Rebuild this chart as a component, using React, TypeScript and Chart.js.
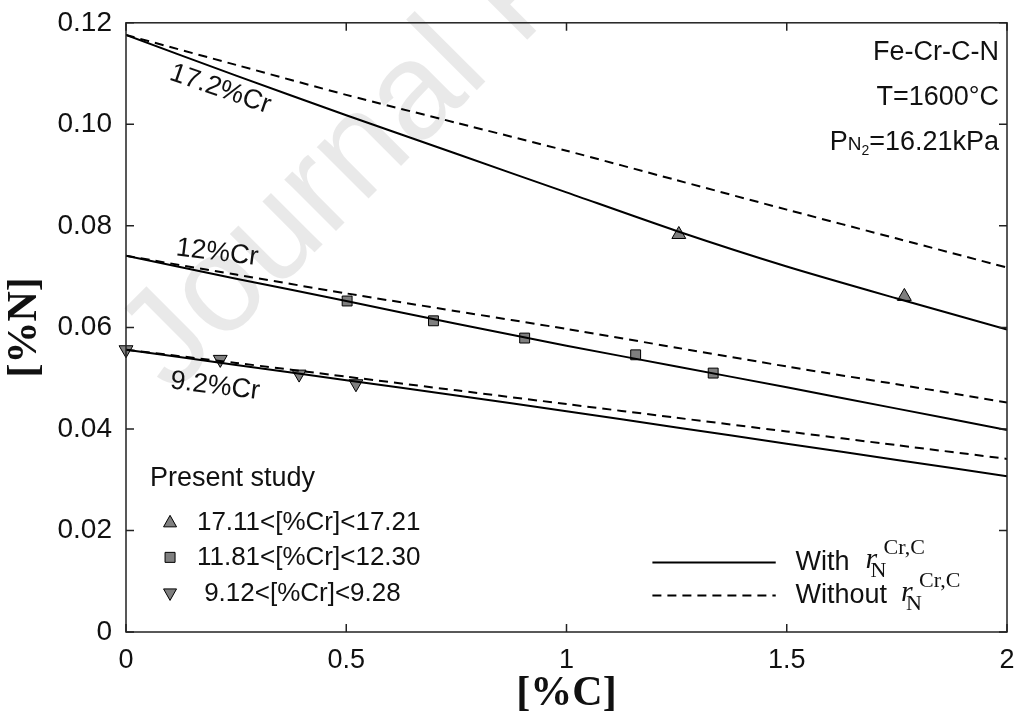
import React, { useEffect, useRef } from "react";
import { Chart, registerables } from "chart.js";

Chart.register(...registerables);

// ---- data ----
const xGrid = [0, 0.25, 0.5, 0.75, 1, 1.25, 1.5, 1.75, 2];
const with172 = [0.1176, 0.1096, 0.1018, 0.0942, 0.0866, 0.079, 0.072, 0.0657, 0.0596];
const without172 = [0.1176, 0.1117, 0.1058, 0.1003, 0.0948, 0.089, 0.0832, 0.0775, 0.0718];
const with12 = [0.0741, 0.0696, 0.0652, 0.0607, 0.0564, 0.0523, 0.0482, 0.044, 0.0398];
const without12 = [0.0741, 0.0704, 0.0667, 0.0632, 0.0597, 0.056, 0.0523, 0.0488, 0.0452];
const with92 = [0.0556, 0.0526, 0.0496, 0.0466, 0.0435, 0.0403, 0.0371, 0.0339, 0.0307];
const without92 = [0.0556, 0.053, 0.0503, 0.0476, 0.0449, 0.0422, 0.0395, 0.0368, 0.0341];

const tri17X = [1.255, 1.767];
const tri17Y = [0.0783, 0.0661];
const sq12X = [0.502, 0.698, 0.905, 1.157, 1.333];
const sq12Y = [0.0652, 0.0613, 0.0579, 0.0546, 0.051];
const tri9X = [0, 0.214, 0.393, 0.522];
const tri9Y = [0.0556, 0.0537, 0.0508, 0.0489];

const xTicks = [0, 0.5, 1, 1.5, 2];
const xTickLabels = ["0", "0.5", "1", "1.5", "2"];
const yTicks = [0, 0.02, 0.04, 0.06, 0.08, 0.1, 0.12];
const yTickLabels = ["0", "0.02", "0.04", "0.06", "0.08", "0.10", "0.12"];

const curveLabels = ["17.2%Cr", "12%Cr", "9.2%Cr"];
const legendTitle = "Present study";
const legendLabels = ["17.11<[%Cr]<17.21", "11.81<[%Cr]<12.30", " 9.12<[%Cr]<9.28"];
const infoLines = ["Fe-Cr-C-N", "T=1600°C"];

const SANS = "'Liberation Sans', Arial, sans-serif";
const SERIF = "'Liberation Serif', 'Times New Roman', serif";
const MARKER_FILL = "#7f7f7f";

const pts = (xs: number[], ys: number[]) => xs.map((x, i) => ({ x, y: ys[i] }));

function drawMarker(ctx: CanvasRenderingContext2D, style: string, x: number, y: number) {
  ctx.save();
  ctx.fillStyle = MARKER_FILL;
  ctx.strokeStyle = "#000";
  ctx.lineWidth = 1;
  ctx.beginPath();
  if (style === "rect") {
    ctx.rect(x - 5, y - 5, 10, 10);
  } else if (style === "up") {
    ctx.moveTo(x, y - 7);
    ctx.lineTo(x + 6.5, y + 4.5);
    ctx.lineTo(x - 6.5, y + 4.5);
    ctx.closePath();
  } else {
    ctx.moveTo(x, y + 7);
    ctx.lineTo(x + 6.5, y - 4.5);
    ctx.lineTo(x - 6.5, y - 4.5);
    ctx.closePath();
  }
  ctx.fill();
  ctx.stroke();
  ctx.restore();
}

function drawRN(ctx: CanvasRenderingContext2D, x: number, y: number) {
  ctx.save();
  ctx.fillStyle = "#111";
  ctx.textBaseline = "alphabetic";
  ctx.textAlign = "left";
  ctx.font = `italic 30px ${SERIF}`;
  ctx.fillText("r", x, y + 6);
  ctx.font = `22px ${SERIF}`;
  ctx.fillText("N", x + 5, y + 15);
  ctx.fillText("Cr,C", x + 18, y - 8);
  ctx.restore();
}

const decorPlugin = {
  id: "decor",
  beforeDatasetsDraw(chart: any) {
    const ctx = chart.ctx as CanvasRenderingContext2D;
    // watermark
    ctx.save();
    ctx.fillStyle = "rgba(0,0,0,0.085)";
    ctx.font = `138px ${SANS}`;
    ctx.translate(172, 395);
    ctx.rotate((-45 * Math.PI) / 180);
    ctx.textBaseline = "alphabetic";
    ctx.fillText("Journal Pre-proof", 0, 0);
    ctx.restore();
  },
  afterDatasetsDraw(chart: any) {
    const ctx = chart.ctx as CanvasRenderingContext2D;
    const a = chart.chartArea;
    const xs = chart.scales.x;
    const ys = chart.scales.y;
    // frame
    ctx.save();
    ctx.strokeStyle = "#222";
    ctx.lineWidth = 1.5;
    ctx.strokeRect(a.left, a.top, a.right - a.left, a.bottom - a.top);
    // inward ticks
    const tl = 8;
    ctx.beginPath();
    xTicks.forEach((v) => {
      const px = xs.getPixelForValue(v);
      ctx.moveTo(px, a.bottom);
      ctx.lineTo(px, a.bottom - tl);
      ctx.moveTo(px, a.top);
      ctx.lineTo(px, a.top + tl);
    });
    yTicks.forEach((v) => {
      const py = ys.getPixelForValue(v);
      ctx.moveTo(a.left, py);
      ctx.lineTo(a.left + tl, py);
      ctx.moveTo(a.right, py);
      ctx.lineTo(a.right - tl, py);
    });
    ctx.stroke();
    ctx.restore();

    const X = (v: number) => xs.getPixelForValue(v);
    const Y = (v: number) => ys.getPixelForValue(v);

    // info text top-right
    ctx.save();
    ctx.fillStyle = "#111";
    ctx.font = `27px ${SANS}`;
    ctx.textAlign = "right";
    ctx.textBaseline = "middle";
    ctx.fillText(infoLines[0], X(1.982), Y(0.1141));
    ctx.fillText(infoLines[1], X(1.982), Y(0.1053));
    // P N2 = 16.21kPa
    const rest = "=16.21kPa";
    ctx.textAlign = "left";
    const wRest = ctx.measureText(rest).width;
    const wP = ctx.measureText("P").width;
    ctx.font = `19px ${SANS}`;
    const wN = ctx.measureText("N").width;
    ctx.font = `14px ${SANS}`;
    const w2 = ctx.measureText("2").width;
    const endX = X(1.982);
    const yMid = Y(0.0965);
    let cx = endX - wRest - wP - wN - w2;
    ctx.font = `27px ${SANS}`;
    ctx.fillText("P", cx, yMid);
    cx += wP;
    ctx.font = `19px ${SANS}`;
    ctx.fillText("N", cx, yMid + 3);
    cx += wN;
    ctx.font = `14px ${SANS}`;
    ctx.fillText("2", cx, yMid + 9);
    cx += w2;
    ctx.font = `27px ${SANS}`;
    ctx.fillText(rest, cx, yMid);
    ctx.restore();

    // curve labels
    const cl = [
      { t: curveLabels[0], x: 0.214, y: 0.1069, r: 19 },
      { t: curveLabels[1], x: 0.207, y: 0.0747, r: 7 },
      { t: curveLabels[2], x: 0.202, y: 0.0484, r: 7 },
    ];
    cl.forEach((c) => {
      ctx.save();
      ctx.fillStyle = "#111";
      ctx.font = `27px ${SANS}`;
      ctx.textAlign = "center";
      ctx.textBaseline = "middle";
      ctx.translate(X(c.x), Y(c.y));
      ctx.rotate((c.r * Math.PI) / 180);
      ctx.fillText(c.t, 0, 0);
      ctx.restore();
    });

    // legend bottom-left
    ctx.save();
    ctx.fillStyle = "#111";
    ctx.font = `27px ${SANS}`;
    ctx.textAlign = "left";
    ctx.textBaseline = "middle";
    ctx.fillText(legendTitle, X(0.0545), Y(0.0302));
    const ly = [0.0216, 0.0147, 0.0076];
    const styles = ["up", "rect", "down"];
    ly.forEach((v, i) => {
      drawMarker(ctx, styles[i], X(0.1), Y(v));
      ctx.fillStyle = "#111";
      ctx.font = `26px ${SANS}`;
      ctx.fillText(legendLabels[i], X(0.161), Y(v));
    });
    ctx.restore();

    // legend bottom-right
    ctx.save();
    ctx.strokeStyle = "#000";
    ctx.lineWidth = 2;
    ctx.beginPath();
    ctx.moveTo(X(1.195), Y(0.0137));
    ctx.lineTo(X(1.475), Y(0.0137));
    ctx.stroke();
    ctx.setLineDash([9, 6]);
    ctx.beginPath();
    ctx.moveTo(X(1.195), Y(0.0072));
    ctx.lineTo(X(1.475), Y(0.0072));
    ctx.stroke();
    ctx.setLineDash([]);
    ctx.fillStyle = "#111";
    ctx.font = `27px ${SANS}`;
    ctx.textAlign = "left";
    ctx.textBaseline = "middle";
    ctx.fillText("With", X(1.52), Y(0.0137));
    const wWith = ctx.measureText("With").width;
    ctx.fillText("Without", X(1.52), Y(0.0072));
    const wWithout = ctx.measureText("Without").width;
    drawRN(ctx, X(1.52) + wWith + 16, Y(0.0137));
    drawRN(ctx, X(1.52) + wWithout + 14, Y(0.0072));
    ctx.restore();
  },
};

const App = () => {
  const ref = useRef<HTMLCanvasElement>(null);
  useEffect(() => {
    const canvas = ref.current;
    if (!canvas) return;
    const line = (ys: number[], dashed: boolean) => ({
      data: pts(xGrid, ys),
      showLine: true,
      borderColor: "#000",
      borderWidth: 2,
      borderDash: dashed ? [9, 6] : [],
      pointRadius: 0,
      tension: 0.25,
      fill: false,
    });
    const marks = (xs: number[], ys: number[], style: string, rot: number, r: number) => ({
      data: pts(xs, ys),
      showLine: false,
      pointStyle: style,
      pointRotation: rot,
      pointRadius: r,
      pointBackgroundColor: MARKER_FILL,
      pointBorderColor: "#000",
      pointBorderWidth: 1,
      clip: false,
    });
    const chart = new Chart(canvas, {
      type: "scatter",
      data: {
        datasets: [
          line(with172, false),
          line(without172, true),
          line(with12, false),
          line(without12, true),
          line(with92, false),
          line(without92, true),
          marks(tri17X, tri17Y, "triangle", 0, 8),
          marks(sq12X, sq12Y, "rect", 0, 7),
          marks(tri9X, tri9Y, "triangle", 180, 8),
        ] as any,
      },
      options: {
        responsive: false,
        animation: false,
        layout: { padding: { top: 20, right: 13, left: 0, bottom: 0 } },
        plugins: { legend: { display: false }, tooltip: { enabled: false } },
        scales: {
          x: {
            type: "linear",
            min: 0,
            max: 2,
            afterBuildTicks: (axis: any) => {
              axis.ticks = xTicks.map((v) => ({ value: v }));
            },
            afterFit: (axis: any) => {
              axis.height = 87;
            },
            ticks: {
              autoSkip: false,
              maxRotation: 0,
              padding: 4,
              color: "#111",
              font: { family: SANS, size: 27 },
              callback: (_v: any, i: number) => xTickLabels[i],
            },
            grid: { display: false },
            border: { display: false },
            title: {
              display: true,
              text: "[%C]",
              color: "#111",
              font: { family: SERIF, size: 42, weight: "bold" },
              padding: { top: 5, bottom: 0 },
            },
          },
          y: {
            type: "linear",
            min: 0,
            max: 0.12,
            afterBuildTicks: (axis: any) => {
              axis.ticks = yTicks.map((v) => ({ value: v }));
            },
            afterFit: (axis: any) => {
              axis.width = 126;
            },
            ticks: {
              autoSkip: false,
              padding: 6,
              color: "#111",
              font: { family: SANS, size: 28 },
              callback: (_v: any, i: number) => yTickLabels[i],
            },
            grid: { display: false },
            border: { display: false },
            title: {
              display: true,
              text: "[%N]",
              color: "#111",
              font: { family: SERIF, size: 42, weight: "bold" },
              padding: { top: 0, bottom: 0 },
            },
          },
        },
      } as any,
      plugins: [decorPlugin],
    });
    return () => chart.destroy();
  }, []);
  return (
    <div style={{ position: "fixed", left: 0, top: 0, width: 1020, height: 719, background: "#fff" }}>
      <canvas ref={ref} width={1020} height={719} />
    </div>
  );
};

export default App;
